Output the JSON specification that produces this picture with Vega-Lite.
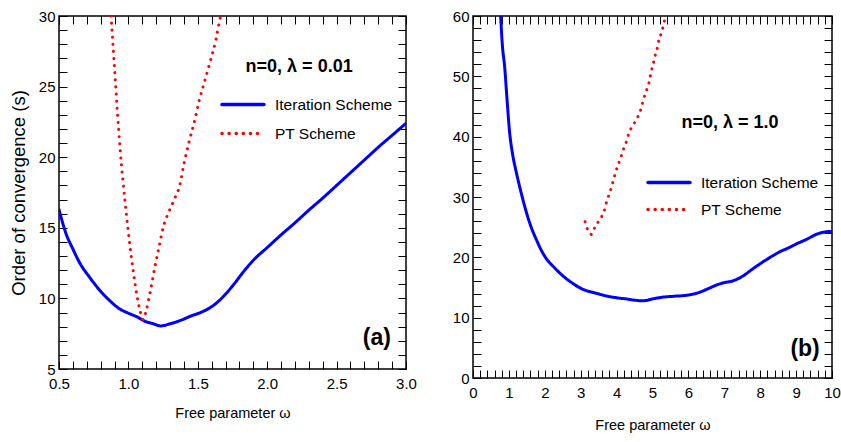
{
  "$schema": "https://vega.github.io/schema/vega-lite/v6.json",
  "background": "white",
  "padding": {"left": 8, "top": 8, "right": 9, "bottom": 4},
  "config": {
    "font": "Liberation Sans",
    "view": {"stroke": "black", "strokeWidth": 1.5},
    "axis": {
      "grid": false,
      "domain": false,
      "tickColor": "black",
      "tickWidth": 1,
      "tickSize": -8,
      "labelColor": "black",
      "labelFont": "Liberation Sans",
      "labelFontSize": 15,
      "labelOverlap": false,
      "labelFlush": false,
      "titleFont": "Liberation Sans",
      "titleFontSize": 14.5,
      "titleFontWeight": "normal",
      "titleColor": "black"
    },
    "legend": {
      "labelFont": "Liberation Sans",
      "labelFontSize": 15.5,
      "labelColor": "black",
      "symbolType": "stroke",
      "symbolStrokeWidth": 3.5,
      "symbolSize": 1764,
      "labelOffset": 9,
      "clipHeight": 25,
      "rowPadding": 4,
      "title": null
    }
  },
  "datasets": {
    "a": [
      {"w": 0.5, "s": 16.3, "scheme": "Iteration Scheme"},
      {"w": 0.55, "s": 14.6, "scheme": "Iteration Scheme"},
      {"w": 0.6, "s": 13.5, "scheme": "Iteration Scheme"},
      {"w": 0.65, "s": 12.5, "scheme": "Iteration Scheme"},
      {"w": 0.72, "s": 11.5, "scheme": "Iteration Scheme"},
      {"w": 0.8, "s": 10.5, "scheme": "Iteration Scheme"},
      {"w": 0.87, "s": 9.8, "scheme": "Iteration Scheme"},
      {"w": 0.93, "s": 9.3, "scheme": "Iteration Scheme"},
      {"w": 1.0, "s": 8.95, "scheme": "Iteration Scheme"},
      {"w": 1.06, "s": 8.7, "scheme": "Iteration Scheme"},
      {"w": 1.12, "s": 8.38, "scheme": "Iteration Scheme"},
      {"w": 1.18, "s": 8.2, "scheme": "Iteration Scheme"},
      {"w": 1.23, "s": 8.05, "scheme": "Iteration Scheme"},
      {"w": 1.3, "s": 8.2, "scheme": "Iteration Scheme"},
      {"w": 1.37, "s": 8.42, "scheme": "Iteration Scheme"},
      {"w": 1.45, "s": 8.75, "scheme": "Iteration Scheme"},
      {"w": 1.52, "s": 9.0, "scheme": "Iteration Scheme"},
      {"w": 1.59, "s": 9.35, "scheme": "Iteration Scheme"},
      {"w": 1.65, "s": 9.8, "scheme": "Iteration Scheme"},
      {"w": 1.7, "s": 10.3, "scheme": "Iteration Scheme"},
      {"w": 1.76, "s": 11.0, "scheme": "Iteration Scheme"},
      {"w": 1.83, "s": 11.9, "scheme": "Iteration Scheme"},
      {"w": 1.9, "s": 12.7, "scheme": "Iteration Scheme"},
      {"w": 2.0, "s": 13.6, "scheme": "Iteration Scheme"},
      {"w": 2.1, "s": 14.5, "scheme": "Iteration Scheme"},
      {"w": 2.2, "s": 15.35, "scheme": "Iteration Scheme"},
      {"w": 2.3, "s": 16.25, "scheme": "Iteration Scheme"},
      {"w": 2.4, "s": 17.1, "scheme": "Iteration Scheme"},
      {"w": 2.5, "s": 18.0, "scheme": "Iteration Scheme"},
      {"w": 2.6, "s": 18.9, "scheme": "Iteration Scheme"},
      {"w": 2.7, "s": 19.8, "scheme": "Iteration Scheme"},
      {"w": 2.8, "s": 20.7, "scheme": "Iteration Scheme"},
      {"w": 2.9, "s": 21.55, "scheme": "Iteration Scheme"},
      {"w": 3.0, "s": 22.4, "scheme": "Iteration Scheme"},
      {"w": 0.875, "s": 30.0, "scheme": "PT Scheme"},
      {"w": 0.9, "s": 26.3, "scheme": "PT Scheme"},
      {"w": 0.92, "s": 23.3, "scheme": "PT Scheme"},
      {"w": 0.94, "s": 20.6, "scheme": "PT Scheme"},
      {"w": 0.96, "s": 18.4, "scheme": "PT Scheme"},
      {"w": 0.985, "s": 16.0, "scheme": "PT Scheme"},
      {"w": 1.01, "s": 13.8, "scheme": "PT Scheme"},
      {"w": 1.035, "s": 11.9, "scheme": "PT Scheme"},
      {"w": 1.06, "s": 10.3, "scheme": "PT Scheme"},
      {"w": 1.085, "s": 9.1, "scheme": "PT Scheme"},
      {"w": 1.105, "s": 8.5, "scheme": "PT Scheme"},
      {"w": 1.13, "s": 9.2, "scheme": "PT Scheme"},
      {"w": 1.16, "s": 10.6, "scheme": "PT Scheme"},
      {"w": 1.19, "s": 12.2, "scheme": "PT Scheme"},
      {"w": 1.22, "s": 13.6, "scheme": "PT Scheme"},
      {"w": 1.25, "s": 15.0, "scheme": "PT Scheme"},
      {"w": 1.29, "s": 16.1, "scheme": "PT Scheme"},
      {"w": 1.33, "s": 17.0, "scheme": "PT Scheme"},
      {"w": 1.37, "s": 18.0, "scheme": "PT Scheme"},
      {"w": 1.4, "s": 19.5, "scheme": "PT Scheme"},
      {"w": 1.44, "s": 21.2, "scheme": "PT Scheme"},
      {"w": 1.48, "s": 22.7, "scheme": "PT Scheme"},
      {"w": 1.51, "s": 24.0, "scheme": "PT Scheme"},
      {"w": 1.55, "s": 25.4, "scheme": "PT Scheme"},
      {"w": 1.59, "s": 26.8, "scheme": "PT Scheme"},
      {"w": 1.63, "s": 28.3, "scheme": "PT Scheme"},
      {"w": 1.66, "s": 29.8, "scheme": "PT Scheme"},
      {"w": 1.665, "s": 30.0, "scheme": "PT Scheme"}
    ],
    "b": [
      {"w": 0.77, "s": 60.0, "scheme": "Iteration Scheme"},
      {"w": 0.82, "s": 55.0, "scheme": "Iteration Scheme"},
      {"w": 0.88, "s": 51.7, "scheme": "Iteration Scheme"},
      {"w": 0.95, "s": 46.0, "scheme": "Iteration Scheme"},
      {"w": 1.02, "s": 40.7, "scheme": "Iteration Scheme"},
      {"w": 1.1, "s": 37.2, "scheme": "Iteration Scheme"},
      {"w": 1.21, "s": 34.0, "scheme": "Iteration Scheme"},
      {"w": 1.35, "s": 30.5, "scheme": "Iteration Scheme"},
      {"w": 1.49, "s": 27.4, "scheme": "Iteration Scheme"},
      {"w": 1.62, "s": 25.0, "scheme": "Iteration Scheme"},
      {"w": 1.76, "s": 23.0, "scheme": "Iteration Scheme"},
      {"w": 1.9, "s": 21.2, "scheme": "Iteration Scheme"},
      {"w": 2.04, "s": 19.8, "scheme": "Iteration Scheme"},
      {"w": 2.25, "s": 18.4, "scheme": "Iteration Scheme"},
      {"w": 2.51, "s": 16.9, "scheme": "Iteration Scheme"},
      {"w": 2.75, "s": 15.8, "scheme": "Iteration Scheme"},
      {"w": 3.06, "s": 14.7, "scheme": "Iteration Scheme"},
      {"w": 3.4, "s": 14.1, "scheme": "Iteration Scheme"},
      {"w": 3.71, "s": 13.6, "scheme": "Iteration Scheme"},
      {"w": 4.0, "s": 13.3, "scheme": "Iteration Scheme"},
      {"w": 4.27, "s": 13.1, "scheme": "Iteration Scheme"},
      {"w": 4.5, "s": 12.9, "scheme": "Iteration Scheme"},
      {"w": 4.74, "s": 12.8, "scheme": "Iteration Scheme"},
      {"w": 5.0, "s": 13.1, "scheme": "Iteration Scheme"},
      {"w": 5.29, "s": 13.4, "scheme": "Iteration Scheme"},
      {"w": 5.6, "s": 13.55, "scheme": "Iteration Scheme"},
      {"w": 5.94, "s": 13.7, "scheme": "Iteration Scheme"},
      {"w": 6.31, "s": 14.2, "scheme": "Iteration Scheme"},
      {"w": 6.55, "s": 14.8, "scheme": "Iteration Scheme"},
      {"w": 6.78, "s": 15.4, "scheme": "Iteration Scheme"},
      {"w": 7.0, "s": 15.8, "scheme": "Iteration Scheme"},
      {"w": 7.24, "s": 16.1, "scheme": "Iteration Scheme"},
      {"w": 7.52, "s": 16.9, "scheme": "Iteration Scheme"},
      {"w": 7.75, "s": 17.9, "scheme": "Iteration Scheme"},
      {"w": 7.99, "s": 18.9, "scheme": "Iteration Scheme"},
      {"w": 8.25, "s": 19.9, "scheme": "Iteration Scheme"},
      {"w": 8.54, "s": 20.9, "scheme": "Iteration Scheme"},
      {"w": 8.8, "s": 21.6, "scheme": "Iteration Scheme"},
      {"w": 9.0, "s": 22.2, "scheme": "Iteration Scheme"},
      {"w": 9.3, "s": 23.0, "scheme": "Iteration Scheme"},
      {"w": 9.56, "s": 23.8, "scheme": "Iteration Scheme"},
      {"w": 9.8, "s": 24.2, "scheme": "Iteration Scheme"},
      {"w": 10.0, "s": 24.3, "scheme": "Iteration Scheme"},
      {"w": 3.12, "s": 25.9, "scheme": "PT Scheme"},
      {"w": 3.2, "s": 24.5, "scheme": "PT Scheme"},
      {"w": 3.3, "s": 23.8, "scheme": "PT Scheme"},
      {"w": 3.41, "s": 25.2, "scheme": "PT Scheme"},
      {"w": 3.56, "s": 26.5, "scheme": "PT Scheme"},
      {"w": 3.67, "s": 28.0, "scheme": "PT Scheme"},
      {"w": 3.73, "s": 29.4, "scheme": "PT Scheme"},
      {"w": 3.81, "s": 30.7, "scheme": "PT Scheme"},
      {"w": 3.88, "s": 32.1, "scheme": "PT Scheme"},
      {"w": 3.95, "s": 33.6, "scheme": "PT Scheme"},
      {"w": 4.02, "s": 35.0, "scheme": "PT Scheme"},
      {"w": 4.11, "s": 36.4, "scheme": "PT Scheme"},
      {"w": 4.19, "s": 37.9, "scheme": "PT Scheme"},
      {"w": 4.27, "s": 39.1, "scheme": "PT Scheme"},
      {"w": 4.35, "s": 40.7, "scheme": "PT Scheme"},
      {"w": 4.46, "s": 41.9, "scheme": "PT Scheme"},
      {"w": 4.6, "s": 43.4, "scheme": "PT Scheme"},
      {"w": 4.69, "s": 44.8, "scheme": "PT Scheme"},
      {"w": 4.75, "s": 46.2, "scheme": "PT Scheme"},
      {"w": 4.83, "s": 47.6, "scheme": "PT Scheme"},
      {"w": 4.9, "s": 48.9, "scheme": "PT Scheme"},
      {"w": 4.95, "s": 50.4, "scheme": "PT Scheme"},
      {"w": 5.01, "s": 51.8, "scheme": "PT Scheme"},
      {"w": 5.07, "s": 53.3, "scheme": "PT Scheme"},
      {"w": 5.13, "s": 54.6, "scheme": "PT Scheme"},
      {"w": 5.18, "s": 56.1, "scheme": "PT Scheme"},
      {"w": 5.26, "s": 57.4, "scheme": "PT Scheme"},
      {"w": 5.32, "s": 58.9, "scheme": "PT Scheme"},
      {"w": 5.36, "s": 60.0, "scheme": "PT Scheme"}
    ]
  },
  "spacing": 33,
  "resolve": {
    "scale": {"x": "independent", "y": "independent"},
    "legend": {"color": "independent", "strokeDash": "independent"}
  },
  "hconcat": [
    {
      "width": 347,
      "height": 353,
      "resolve": {"axis": {"x": "independent", "y": "independent"}},
      "layer": [
        {
          "data": {"name": "a"},
          "mark": {"type": "line", "strokeWidth": 3, "strokeCap": "round", "clip": true, "interpolate": "monotone"},
          "encoding": {
            "x": {
              "field": "w", "type": "quantitative",
              "scale": {"domain": [0.5, 3], "nice": false, "zero": false},
              "axis": {
                "orient": "bottom",
                "values": [0.5,0.6,0.7,0.8,0.9,1,1.1,1.2,1.3,1.4,1.5,1.6,1.7,1.8,1.9,2,2.1,2.2,2.3,2.4,2.5,2.6,2.7,2.8,2.9,3],
                "labelExpr": "abs(datum.value*2 - round(datum.value*2)) < 0.001 ? format(datum.value, '.1f') : ''",
                "encode": {"ticks": {"update": {"y2": {"signal": "abs(datum.value*2 - round(datum.value*2)) < 0.001 ? -8 : -4"}}}},
                "labelPadding": 15,
                "title": "Free parameter ω",
                "titlePadding": 15
              }
            },
            "y": {
              "field": "s", "type": "quantitative",
              "scale": {"domain": [5, 30], "nice": false, "zero": false},
              "axis": {
                "orient": "left",
                "values": [5,6,7,8,9,10,11,12,13,14,15,16,17,18,19,20,21,22,23,24,25,26,27,28,29,30],
                "labelExpr": "datum.value % 5 === 0 ? datum.label : ''",
                "encode": {"ticks": {"update": {"x2": {"signal": "datum.value % 5 === 0 ? 8 : 4"}}}},
                "labelPadding": 12,
                "title": "Order of convergence (s)",
                "titleFontSize": 18.5,
                "titlePadding": 10
              }
            },
            "color": {
              "field": "scheme", "type": "nominal",
              "scale": {"domain": ["Iteration Scheme", "PT Scheme"], "range": ["#0000ff", "#ff0000"]},
              "legend": {"orient": "none", "legendX": 161, "legendY": 76, "clipHeight": 25, "rowPadding": 4, "symbolStrokeWidth": 3.5, "encode": {"symbols": {"update": {"strokeCap": {"value": "round"}}}}}
            },
            "strokeDash": {
              "field": "scheme", "type": "nominal",
              "scale": {"domain": ["Iteration Scheme", "PT Scheme"], "range": [[1, 0], [0.1, 7]]},
              "legend": {"orient": "none", "legendX": 161, "legendY": 76, "clipHeight": 25, "rowPadding": 4, "symbolStrokeWidth": 3.5, "encode": {"symbols": {"update": {"strokeCap": {"value": "round"}}}}}
            }
          }
        },
        {
          "data": {"values": [{}]},
          "mark": {"type": "text", "font": "Liberation Sans", "fontWeight": "bold", "fontSize": 18, "color": "black"},
          "encoding": {
            "text": {"value": "n=0, λ = 0.01"},
            "x": {
              "datum": 2.23, "type": "quantitative",
              "scale": {"domain": [0.5, 3], "nice": false, "zero": false},
              "axis": {
                "orient": "top",
                "values": [0.5,0.6,0.7,0.8,0.9,1,1.1,1.2,1.3,1.4,1.5,1.6,1.7,1.8,1.9,2,2.1,2.2,2.3,2.4,2.5,2.6,2.7,2.8,2.9,3],
                "labels": false,
                "encode": {"ticks": {"update": {"y2": {"signal": "abs(datum.value*2 - round(datum.value*2)) < 0.001 ? 8 : 4"}}}},
                "title": null
              }
            },
            "y": {
              "datum": 26.4, "type": "quantitative",
              "scale": {"domain": [5, 30], "nice": false, "zero": false},
              "axis": {
                "orient": "right",
                "values": [5,6,7,8,9,10,11,12,13,14,15,16,17,18,19,20,21,22,23,24,25,26,27,28,29,30],
                "labels": false,
                "encode": {"ticks": {"update": {"x2": {"signal": "datum.value % 5 === 0 ? -8 : -4"}}}},
                "title": null
              }
            }
          }
        },
        {
          "data": {"values": [{}]},
          "mark": {"type": "text", "font": "Liberation Sans", "fontWeight": "bold", "fontSize": 23, "color": "black"},
          "encoding": {
            "text": {"value": "(a)"},
            "x": {"datum": 2.79, "type": "quantitative", "axis": null},
            "y": {"datum": 7.2, "type": "quantitative", "axis": null}
          }
        }
      ]
    },
    {
      "width": 359,
      "height": 362,
      "resolve": {"axis": {"x": "independent", "y": "independent"}},
      "layer": [
        {
          "data": {"name": "b"},
          "mark": {"type": "line", "strokeWidth": 3, "strokeCap": "round", "clip": true, "interpolate": "monotone"},
          "encoding": {
            "x": {
              "field": "w", "type": "quantitative",
              "scale": {"domain": [0, 10], "nice": false, "zero": false},
              "axis": {
                "orient": "bottom",
                "values": [0,0.2,0.4,0.6,0.8,1,1.2,1.4,1.6,1.8,2,2.2,2.4,2.6,2.8,3,3.2,3.4,3.6,3.8,4,4.2,4.4,4.6,4.8,5,5.2,5.4,5.6,5.8,6,6.2,6.4,6.6,6.8,7,7.2,7.4,7.6,7.8,8,8.2,8.4,8.6,8.8,9,9.2,9.4,9.6,9.8,10],
                "labelExpr": "abs(datum.value - round(datum.value)) < 0.001 ? format(datum.value, 'd') : ''",
                "encode": {"ticks": {"update": {"y2": {"signal": "abs(datum.value - round(datum.value)) < 0.001 ? -8 : -4"}}}},
                "labelPadding": 15,
                "title": "Free parameter ω",
                "titlePadding": 18
              }
            },
            "y": {
              "field": "s", "type": "quantitative",
              "scale": {"domain": [0, 60], "nice": false, "zero": false},
              "axis": {
                "orient": "left",
                "values": [0,2,4,6,8,10,12,14,16,18,20,22,24,26,28,30,32,34,36,38,40,42,44,46,48,50,52,54,56,58,60],
                "labelExpr": "datum.value % 10 === 0 ? datum.label : ''",
                "encode": {"ticks": {"update": {"x2": {"signal": "datum.value % 10 === 0 ? 8 : 4"}}}},
                "labelPadding": 12,
                "title": null
              }
            },
            "color": {
              "field": "scheme", "type": "nominal",
              "scale": {"domain": ["Iteration Scheme", "PT Scheme"], "range": ["#0000ff", "#ff0000"]},
              "legend": {"orient": "none", "legendX": 173, "legendY": 154, "clipHeight": 25, "rowPadding": 2, "symbolStrokeWidth": 3.5, "encode": {"symbols": {"update": {"strokeCap": {"value": "round"}}}}}
            },
            "strokeDash": {
              "field": "scheme", "type": "nominal",
              "scale": {"domain": ["Iteration Scheme", "PT Scheme"], "range": [[1, 0], [0.1, 7]]},
              "legend": {"orient": "none", "legendX": 173, "legendY": 154, "clipHeight": 25, "rowPadding": 2, "symbolStrokeWidth": 3.5, "encode": {"symbols": {"update": {"strokeCap": {"value": "round"}}}}}
            }
          }
        },
        {
          "data": {"values": [{}]},
          "mark": {"type": "text", "font": "Liberation Sans", "fontWeight": "bold", "fontSize": 18, "color": "black"},
          "encoding": {
            "text": {"value": "n=0, λ = 1.0"},
            "x": {
              "datum": 7.16, "type": "quantitative",
              "scale": {"domain": [0, 10], "nice": false, "zero": false},
              "axis": {
                "orient": "top",
                "values": [0,0.2,0.4,0.6,0.8,1,1.2,1.4,1.6,1.8,2,2.2,2.4,2.6,2.8,3,3.2,3.4,3.6,3.8,4,4.2,4.4,4.6,4.8,5,5.2,5.4,5.6,5.8,6,6.2,6.4,6.6,6.8,7,7.2,7.4,7.6,7.8,8,8.2,8.4,8.6,8.8,9,9.2,9.4,9.6,9.8,10],
                "labels": false,
                "encode": {"ticks": {"update": {"y2": {"signal": "abs(datum.value - round(datum.value)) < 0.001 ? 8 : 4"}}}},
                "title": null
              }
            },
            "y": {
              "datum": 42.3, "type": "quantitative",
              "scale": {"domain": [0, 60], "nice": false, "zero": false},
              "axis": {
                "orient": "right",
                "values": [0,2,4,6,8,10,12,14,16,18,20,22,24,26,28,30,32,34,36,38,40,42,44,46,48,50,52,54,56,58,60],
                "labels": false,
                "encode": {"ticks": {"update": {"x2": {"signal": "datum.value % 10 === 0 ? -8 : -4"}}}},
                "title": null
              }
            }
          }
        },
        {
          "data": {"values": [{}]},
          "mark": {"type": "text", "font": "Liberation Sans", "fontWeight": "bold", "fontSize": 23, "color": "black"},
          "encoding": {
            "text": {"value": "(b)"},
            "x": {"datum": 9.25, "type": "quantitative", "axis": null},
            "y": {"datum": 4.8, "type": "quantitative", "axis": null}
          }
        }
      ]
    }
  ]
}
